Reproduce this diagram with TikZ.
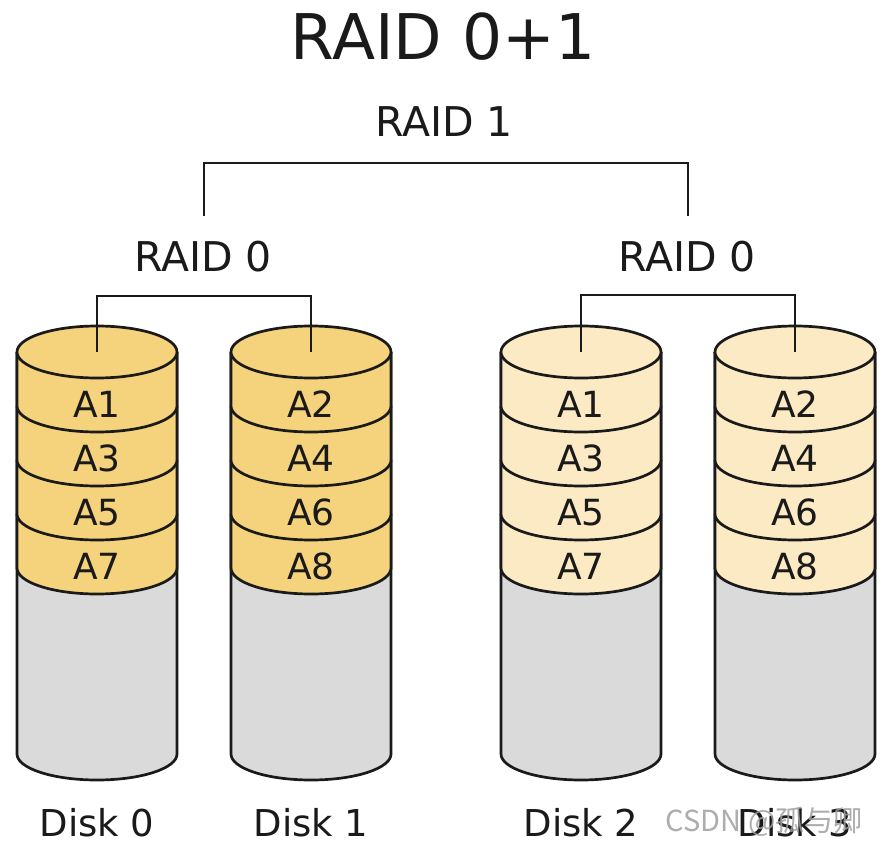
\documentclass[tikz,border=0pt]{standalone}
\usepackage{fontspec}
\setmainfont{DejaVu Sans}
\newfontfamily\cjkwm{Noto Sans CJK SC}
\usetikzlibrary{calc}
\definecolor{ink}{HTML}{1A1A1A}
\definecolor{goldband}{HTML}{F5D27C}
\definecolor{paleband}{HTML}{FBEAC4}
\definecolor{diskgray}{HTML}{DADADA}
\tikzset{
  outline/.style={draw=ink, line width=2.7pt, line join=round},
  wire/.style={draw=ink, line width=2.4pt},
  bandlabel/.style={anchor=base, inner sep=0pt, font=\fontsize{36}{40}\selectfont, text=ink},
  disklabel/.style={anchor=base, inner sep=0pt, font=\fontsize{37}{40}\selectfont, text=ink},
  raidlabel/.style={anchor=base, inner sep=0pt, font=\fontsize{41}{45}\selectfont, text=ink},
}
% #1 name, #2 centre x, #3 band colour, #4 labels, #5 disk label
\newcommand{\raiddisk}[5]{%
  \def\cx{#2}%
  \fill[diskgray] (\cx-80,352) -- (\cx-80,754) arc[start angle=180,end angle=360,x radius=80pt,y radius=26pt] -- (\cx+80,352) -- cycle;
  \draw[outline] (\cx-80,352) -- (\cx-80,754) arc[start angle=180,end angle=360,x radius=80pt,y radius=26pt] -- (\cx+80,352);
  \foreach \i in {3,2,1,0}{%
    \fill[#3] (\cx-80,352+54*\i) -- (\cx-80,406+54*\i) arc[start angle=180,end angle=360,x radius=80pt,y radius=26pt] -- (\cx+80,352+54*\i) -- cycle;
    \draw[outline] (\cx-80,352+54*\i) -- (\cx-80,406+54*\i) arc[start angle=180,end angle=360,x radius=80pt,y radius=26pt] -- (\cx+80,352+54*\i);
  }
  \filldraw[outline, fill=#3] (\cx,352) ellipse[x radius=80pt, y radius=26pt];
  \coordinate (#1top) at (\cx,352);
  \foreach \lab [count=\i from 0] in {#4}{%
    \node[bandlabel] (#1-\i) at (\cx,417+54*\i) {\lab};
  }
  \node[disklabel] (#1lab) at (\cx,836) {#5};
}
\begin{document}
\begin{tikzpicture}[x=1pt,y=-1pt]
  \fill[white] (0,0) rectangle (883,845);
  \useasboundingbox (0,0) rectangle (883,845);

  \node[anchor=base, inner sep=0pt, font=\fontsize{63}{70}\selectfont, text=ink] (title) at (443,60) {RAID 0+1};
  \node[raidlabel] (raid1) at (444,137) {RAID 1};
  \node[raidlabel] (raid0l) at (203,271) {RAID 0};
  \node[raidlabel] (raid0r) at (687,271) {RAID 0};

  \raiddisk{d0}{97}{goldband}{A1,A3,A5,A7}{Disk 0}
  \raiddisk{d1}{311}{goldband}{A2,A4,A6,A8}{Disk 1}
  \raiddisk{d2}{581}{paleband}{A1,A3,A5,A7}{Disk 2}
  \raiddisk{d3}{795}{paleband}{A2,A4,A6,A8}{Disk 3}

  \coordinate (r1l) at (204,216);
  \coordinate (r1r) at (688,216);
  \draw[wire] (r1l) -- ++(0,-53) -| (r1r);
  \draw[wire] (d0top) -- ++(0,-56) -| (d1top);
  \draw[wire] (d2top) -- ++(0,-57) -| (d3top);

  \node[anchor=base, inner sep=0pt, font=\cjkwm\fontsize{29}{32}\selectfont, text=gray!75, opacity=0.85] (wm) at (764,831) {CSDN @孤与卿};
\end{tikzpicture}
\end{document}
